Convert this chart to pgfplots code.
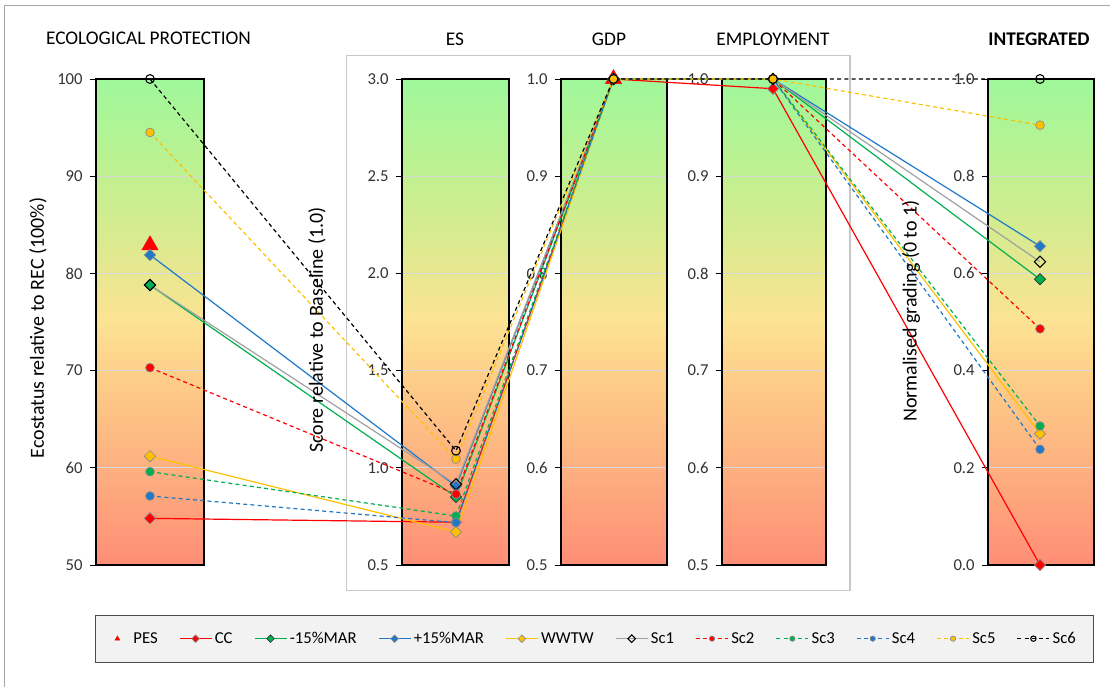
\documentclass[border=0pt]{standalone}
\usepackage{pgfplots}
\pgfplotsset{compat=1.18}
\usepackage{pgfplotstable}
\usepackage{fontspec}
\setmainfont{Carlito}

\definecolor{cRed}{HTML}{FF0000}
\definecolor{cGreen}{HTML}{00B050}
\definecolor{cBlue}{HTML}{1F78C8}
\definecolor{cOrange}{HTML}{FFC000}
\definecolor{cGrey}{HTML}{A0A0A0}
\definecolor{mk}{HTML}{8A8A8A}
\definecolor{g0}{HTML}{FF8E76}
\definecolor{g1}{HTML}{FDAF80}
\definecolor{g2}{HTML}{FDD089}
\definecolor{g3}{HTML}{FCE394}
\definecolor{g4}{HTML}{DFE98F}
\definecolor{g5}{HTML}{C2F090}
\definecolor{g6}{HTML}{9FF89B}
\pgfdeclareverticalshading{excelgrad}{100bp}{color(0bp)=(g0); color(25bp)=(g0); color(34.75bp)=(g1); color(45bp)=(g2); color(50.2bp)=(g3); color(57.4bp)=(g4); color(64.5bp)=(g5); color(75bp)=(g6); color(100bp)=(g6)}

\def\u{0.75pt}
\newcommand\nrm[1]{(\thisrow{#1}-\thisrow{lo})/(\thisrow{hi}-\thisrow{lo})}

% raw values per criterion (lo/hi = axis range of each panel)
\pgfplotstableread{
pos    lo   hi   CC     M15    P15    WWTW   Sc1    Sc2    Sc3    Sc4    Sc5    Sc6
150    50   100  54.8   78.8   81.9   61.2   78.8   70.3   59.6   57.1   94.5   100
456    0.5  3.0  0.72   0.85   0.905  0.67   0.915  0.865  0.752  0.718  1.045  1.088
613.5  0.5  1.0  1.0    1.0    1.0    1.0    1.0    1.0    1.0    1.0    1.0    1.0
773    0.5  1.0  0.99   1.0    1.0    1.0    1.0    1.0    1.0    1.0    1.0    1.0
1040   0.0  1.0  0.0    0.588  0.656  0.27   0.624  0.486  0.286  0.238  0.905  1.0
}\scen
\pgfplotstableread{
pos    lo   hi   v
150    50   100  82.9
613.5  0.5  1.0  1.0
}\pes

\pgfplotsset{
  panel/.style={anchor=south west, scale only axis, height=364.5pt,
    xmin=0, xmax=1, xtick=\empty, ytick pos=left, tick align=outside,
    major tick length=4.5pt,
    axis line style={black, line width=0.9pt},
    tick style={black, line width=0.7pt},
    ymajorgrids, major grid style={draw=black!15, line width=0.7pt},
    axis background/.style={shade, shading=excelgrad},
    tick label style={font=\fontsize{12.5}{14}\selectfont, text=black!80},
    /pgf/number format/assume math mode=true,
    yticklabel style={xshift=-2pt, /pgf/number format/fixed, /pgf/number format/fixed zerofill, /pgf/number format/precision=1}},
  dia/.style={mark=square*, mark size=3pt, mark options={rotate=45, solid, draw=mk, line width=0.5pt}},
  cir/.style={mark=*, mark size=3.3pt, mark options={solid, draw=mk, line width=0.5pt}},
  ln/.style={line width=0.9pt},
  dsh/.style={line width=0.9pt, dash pattern=on 3pt off 2.4pt},
  pesleg/.style={legend image code/.code={\path[draw=none, fill=none] (0pt,0pt) -- (16pt,0pt); \draw[mark repeat=2, mark phase=2, ##1] plot coordinates {(0pt,0pt) (6pt,0pt) (12pt,0pt)};}},
}

\begin{document}
\begin{tikzpicture}
\useasboundingbox (0,0) rectangle ({1110*\u},{686*\u});
\draw[black!35, line width=0.9pt] ({4.7*\u},{-20*\u}) rectangle ({1130*\u},{680.3*\u});
\draw[black!22, line width=1pt] ({346.7*\u},{95.3*\u}) rectangle ({850*\u},{630.3*\u});
\draw[draw=black!70, fill=black!5, line width=0.75pt] ({95.5*\u},{23.5*\u}) rectangle ({1093*\u},{71*\u});

\begin{axis}[panel, at={({96*\u},{121*\u})}, width=81pt, ymin=50, ymax=100, ytick={50,60,...,100},
  yticklabel style={/pgf/number format/precision=0}]
\end{axis}
\begin{axis}[panel, at={({402*\u},{121*\u})}, width=80.25pt, ymin=0.5, ymax=3.0, ytick={0.5,1.0,...,3.0}]
\end{axis}
\begin{axis}[panel, at={({561*\u},{121*\u})}, width=79.5pt, ymin=0.5, ymax=1.0, ytick={0.5,0.6,...,1.0}]
\end{axis}
\begin{axis}[panel, at={({722*\u},{121*\u})}, width=78pt, ymin=0.5, ymax=1.0, ytick={0.5,0.6,...,1.0}]
\end{axis}
\begin{axis}[panel, at={({988*\u},{121*\u})}, width=79.5pt, ymin=0, ymax=1.0, ytick={0,0.2,...,1.0}]
\end{axis}

\begin{axis}[anchor=south west, at={(0pt,{121*\u})}, scale only axis, width=832.5pt, height=364.5pt,
  xmin=0, xmax=1110, ymin=0, ymax=1, hide axis, clip=false,
  legend columns=11,
  legend style={at={(0.5351,-0.1516)}, anchor=center, draw=none, fill=none,
    font=\fontsize{12.5}{15}\selectfont, inner xsep=0pt, inner ysep=0pt,
    /tikz/every even column/.append style={column sep=14pt}},
  legend image code/.code={\draw[mark repeat=2, mark phase=2, #1] plot coordinates {(0pt,0pt) (12pt,0pt) (24pt,0pt)};},
  legend image post style={mark size=2pt}]
\addplot[only marks, mark=triangle*, mark size=7pt, color=cRed, pesleg]
  table[x=pos, y expr={\nrm{v}}] {\pes};
\addlegendentry{PES}
\addplot[ln, cRed, dia] table[x=pos, y expr={\nrm{CC}}] {\scen};
\addlegendentry{CC}
\addplot[ln, cGreen, dia, mark options={rotate=45, solid, draw=black!80, line width=0.5pt}] table[x=pos, y expr={\nrm{M15}}] {\scen};
\addlegendentry{-15\%MAR}
\addplot[ln, cBlue, dia] table[x=pos, y expr={\nrm{P15}}] {\scen};
\addlegendentry{+15\%MAR}
\addplot[ln, cOrange, dia] table[x=pos, y expr={\nrm{WWTW}}] {\scen};
\addlegendentry{WWTW}
\addplot[ln, cGrey, mark=square, mark size=3pt, mark options={rotate=45, draw=black, line width=0.8pt}] table[x=pos, y expr={\nrm{Sc1}}] {\scen};
\addlegendentry{Sc1}
\addplot[dsh, cRed, cir] table[x=pos, y expr={\nrm{Sc2}}] {\scen};
\addlegendentry{Sc2}
\addplot[dsh, cGreen, cir] table[x=pos, y expr={\nrm{Sc3}}] {\scen};
\addlegendentry{Sc3}
\addplot[dsh, cBlue, cir] table[x=pos, y expr={\nrm{Sc4}}] {\scen};
\addlegendentry{Sc4}
\addplot[dsh, cOrange, cir] table[x=pos, y expr={\nrm{Sc5}}] {\scen};
\addlegendentry{Sc5}
\addplot[dsh, black, mark=o, mark size=3.3pt, mark options={solid, line width=0.8pt}] table[x=pos, y expr={\nrm{Sc6}}] {\scen};
\addlegendentry{Sc6}
\end{axis}

\begin{scope}[every node/.style={font=\fontsize{14.5}{17}\selectfont}]
\node at ({148.5*\u},{648*\u}) {ECOLOGICAL PROTECTION};
\node at ({455*\u},{647*\u}) {ES};
\node at ({609*\u},{647*\u}) {GDP};
\node at ({773*\u},{647*\u}) {EMPLOYMENT};
\node at ({1039*\u},{647*\u}) {\bfseries INTEGRATED};
\end{scope}
\begin{scope}[every node/.style={font=\fontsize{15}{18}\selectfont, rotate=90}]
\node at ({38*\u},{358*\u}) {Ecostatus relative to REC (100\%)};
\node at ({317*\u},{356*\u}) {Score relative to Baseline (1.0)};
\node at ({911*\u},{375*\u}) {Normalised grading (0 to 1)};
\end{scope}
\end{tikzpicture}
\end{document}
